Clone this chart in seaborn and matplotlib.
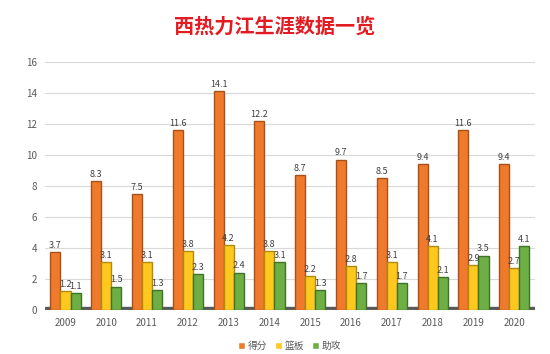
import pandas as pd
import seaborn as sns
import matplotlib.pyplot as plt

years = ['2009', '2010', '2011', '2012', '2013', '2014', '2015', '2016', '2017', '2018', '2019', '2020']
points = [3.7, 8.3, 7.5, 11.6, 14.1, 12.2, 8.7, 9.7, 8.5, 9.4, 11.6, 9.4]
rebounds = [1.2, 3.1, 3.1, 3.8, 4.2, 3.8, 2.2, 2.8, 3.1, 4.1, 2.9, 2.7]
assists = [1.1, 1.5, 1.3, 2.3, 2.4, 3.1, 1.3, 1.7, 1.7, 2.1, 3.5, 4.1]

df = pd.DataFrame({'年份': years, '得分': points, '篮板': rebounds, '助攻': assists})
df = df.melt(id_vars='年份', var_name='项目', value_name='数值')

sns.set_style('white')
plt.rcParams['font.family'] = ['Noto Sans CJK SC', 'DejaVu Sans']

colors = ['#F07A2C', '#FFC81E', '#6DAE45']
edges = ['#A8501A', '#B08A10', '#3F7326']

fig = plt.figure(figsize=(5.5, 3.54), dpi=100)
ax = fig.add_axes([0.082, 0.125, 0.89, 0.70])

sns.barplot(data=df, x='年份', y='数值', hue='项目', palette=colors,
            width=0.74, ax=ax, saturation=1)

for cont, ec in zip(ax.containers, edges):
    for bar in cont:
        bar.set_edgecolor(ec)
        bar.set_linewidth(1.0)
    ax.bar_label(cont, fmt='%.1f', fontsize=6.5, color='#404040', padding=1.5)

ax.set_ylim(0, 16)
ax.set_yticks(range(0, 17, 2))
ax.grid(axis='y', color='#D9D9D9', linewidth=0.8)
ax.set_axisbelow(True)
ax.axhspan(-0.15, 0.15, color='#595959', zorder=0.5)
for s in ax.spines.values():
    s.set_visible(False)
ax.tick_params(length=0, labelsize=7, labelcolor='#595959', pad=6)
ax.set_xlabel('')
ax.set_ylabel('')

ax.legend(loc='upper center', bbox_to_anchor=(0.5, -0.09), ncol=3, frameon=False,
          fontsize=7, handlelength=0.7, handleheight=0.7, handletextpad=0.3,
          columnspacing=0.8, labelcolor='#595959')

fig.suptitle('西热力江生涯数据一览', x=0.5, y=0.955, fontsize=14.5,
             fontweight='bold', color='#E31B23')

fig.savefig('out.png', dpi=100)
